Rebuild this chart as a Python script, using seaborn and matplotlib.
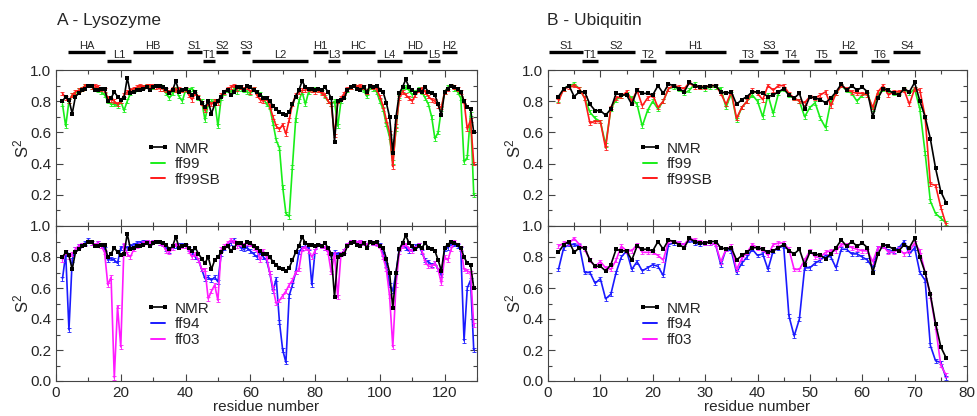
import matplotlib
matplotlib.use("Agg")
import matplotlib.pyplot as plt
import numpy as np
import pandas as pd
import seaborn as sns
from matplotlib.ticker import MultipleLocator
from matplotlib.lines import Line2D

# ---------------- data ----------------
lyso_res = list(range(2, 130))
lyso_nmr = [0.80, 0.83, 0.81, 0.72, 0.83, 0.85, 0.87, 0.88, 0.90, 0.90, 0.87, 0.87, 0.88, 0.88,
            0.80, 0.82, 0.86, 0.83, 0.81, 0.82, 0.95, 0.85, 0.86, 0.87, 0.87, 0.88, 0.89, 0.87,
            0.89, 0.90, 0.90, 0.89, 0.88, 0.85, 0.87, 0.93, 0.86, 0.87, 0.88, 0.86, 0.84, 0.86,
            0.82, 0.79, 0.76, 0.80, 0.72, 0.78, 0.80, 0.83, 0.86, 0.87, 0.84, 0.86, 0.89, 0.89,
            0.87, 0.90, 0.89, 0.87, 0.86, 0.84, 0.82, 0.82, 0.80, 0.77, 0.75, 0.73, 0.72, 0.71,
            0.73, 0.78, 0.83, 0.87, 0.93, 0.89, 0.88, 0.88, 0.87, 0.88, 0.87, 0.89, 0.86, 0.82,
            0.54, 0.80, 0.81, 0.82, 0.87, 0.89, 0.90, 0.88, 0.87, 0.89, 0.86, 0.90, 0.89, 0.90,
            0.87, 0.86, 0.79, 0.70, 0.47, 0.70, 0.85, 0.89, 0.94, 0.89, 0.87, 0.85, 0.87, 0.86,
            0.89, 0.86, 0.85, 0.84, 0.78, 0.71, 0.86, 0.88, 0.90, 0.89, 0.88, 0.86, 0.80, 0.76,
            0.75, 0.60]
lyso_ff99 = [0.78, 0.64, 0.80, 0.84, 0.85, 0.87, 0.88, 0.90, 0.90, 0.89, 0.88, 0.87, 0.86, 0.84,
             0.80, 0.78, 0.78, 0.77, 0.80, 0.74, 0.80, 0.85, 0.87, 0.88, 0.89, 0.89, 0.90, 0.89,
             0.89, 0.90, 0.90, 0.88, 0.85, 0.82, 0.85, 0.88, 0.83, 0.80, 0.87, 0.87, 0.88, 0.86,
             0.82, 0.80, 0.68, 0.78, 0.80, 0.80, 0.64, 0.82, 0.85, 0.87, 0.86, 0.88, 0.86, 0.88,
             0.87, 0.86, 0.85, 0.88, 0.86, 0.85, 0.82, 0.78, 0.76, 0.66, 0.55, 0.50, 0.25, 0.08,
             0.06, 0.38, 0.68, 0.80, 0.86, 0.78, 0.86, 0.87, 0.88, 0.87, 0.86, 0.83, 0.80, 0.78,
             0.80, 0.64, 0.80, 0.83, 0.87, 0.89, 0.90, 0.89, 0.88, 0.87, 0.83, 0.89, 0.88, 0.86,
             0.80, 0.75, 0.65, 0.57, 0.41, 0.62, 0.83, 0.87, 0.89, 0.87, 0.84, 0.86, 0.88, 0.86,
             0.82, 0.78, 0.70, 0.56, 0.60, 0.75, 0.86, 0.89, 0.90, 0.88, 0.86, 0.82, 0.41, 0.44,
             0.72, 0.20]
lyso_ff99sb = [0.85, 0.82, 0.80, 0.84, 0.86, 0.87, 0.88, 0.90, 0.90, 0.89, 0.90, 0.89, 0.88, 0.87,
               0.82, 0.81, 0.80, 0.78, 0.80, 0.84, 0.86, 0.87, 0.88, 0.89, 0.90, 0.89, 0.90, 0.90,
               0.90, 0.89, 0.88, 0.88, 0.87, 0.86, 0.88, 0.87, 0.88, 0.87, 0.88, 0.84, 0.81, 0.85,
               0.83, 0.79, 0.74, 0.79, 0.78, 0.80, 0.79, 0.84, 0.86, 0.88, 0.89, 0.90, 0.88, 0.89,
               0.88, 0.89, 0.86, 0.88, 0.84, 0.81, 0.80, 0.82, 0.77, 0.70, 0.64, 0.62, 0.65, 0.59,
               0.68, 0.78, 0.84, 0.86, 0.87, 0.87, 0.88, 0.87, 0.86, 0.87, 0.85, 0.84, 0.80, 0.78,
               0.58, 0.80, 0.82, 0.85, 0.88, 0.89, 0.90, 0.89, 0.90, 0.89, 0.86, 0.90, 0.89, 0.88,
               0.83, 0.77, 0.68, 0.60, 0.38, 0.64, 0.82, 0.86, 0.84, 0.82, 0.80, 0.84, 0.87, 0.88,
               0.86, 0.83, 0.81, 0.80, 0.77, 0.76, 0.86, 0.88, 0.90, 0.89, 0.88, 0.86, 0.80, 0.62,
               0.68, 0.40]
lyso_ff94 = [0.66, 0.82, 0.33, 0.78, 0.85, 0.87, 0.88, 0.89, 0.91, 0.89, 0.88, 0.89, 0.88, 0.85,
             0.78, 0.79, 0.78, 0.76, 0.86, 0.87, 0.86, 0.87, 0.88, 0.89, 0.89, 0.90, 0.90, 0.89,
             0.90, 0.90, 0.89, 0.88, 0.85, 0.84, 0.87, 0.87, 0.88, 0.88, 0.87, 0.85, 0.83, 0.80,
             0.78, 0.72, 0.66, 0.67, 0.65, 0.67, 0.64, 0.82, 0.86, 0.88, 0.89, 0.91, 0.89, 0.86,
             0.85, 0.86, 0.84, 0.82, 0.80, 0.83, 0.80, 0.78, 0.70, 0.58, 0.66, 0.38, 0.20, 0.12,
             0.55, 0.62, 0.70, 0.83, 0.86, 0.87, 0.86, 0.62, 0.84, 0.88, 0.87, 0.86, 0.85, 0.80,
             0.83, 0.82, 0.82, 0.84, 0.88, 0.90, 0.90, 0.89, 0.90, 0.89, 0.88, 0.90, 0.89, 0.89,
             0.88, 0.82, 0.75, 0.62, 0.58, 0.70, 0.85, 0.88, 0.86, 0.84, 0.85, 0.87, 0.88, 0.83,
             0.78, 0.77, 0.75, 0.76, 0.72, 0.68, 0.85, 0.86, 0.89, 0.88, 0.87, 0.85, 0.26, 0.60,
             0.65, 0.20]
lyso_ff03 = [0.78, 0.83, 0.80, 0.82, 0.85, 0.87, 0.88, 0.88, 0.90, 0.89, 0.88, 0.89, 0.87, 0.83,
             0.62, 0.67, 0.02, 0.48, 0.22, 0.88, 0.82, 0.80, 0.85, 0.87, 0.88, 0.89, 0.90, 0.89,
             0.90, 0.90, 0.89, 0.88, 0.84, 0.83, 0.86, 0.88, 0.87, 0.87, 0.87, 0.84, 0.80, 0.82,
             0.78, 0.72, 0.72, 0.53, 0.58, 0.62, 0.52, 0.85, 0.87, 0.89, 0.91, 0.90, 0.87, 0.88,
             0.88, 0.89, 0.88, 0.86, 0.85, 0.78, 0.84, 0.80, 0.70, 0.60, 0.50, 0.52, 0.55, 0.58,
             0.62, 0.65, 0.70, 0.72, 0.85, 0.86, 0.84, 0.80, 0.84, 0.88, 0.87, 0.86, 0.83, 0.70,
             0.82, 0.54, 0.82, 0.84, 0.88, 0.90, 0.90, 0.89, 0.90, 0.89, 0.88, 0.90, 0.89, 0.88,
             0.87, 0.80, 0.72, 0.55, 0.22, 0.62, 0.83, 0.87, 0.88, 0.85, 0.84, 0.86, 0.88, 0.84,
             0.77, 0.74, 0.74, 0.76, 0.72, 0.63, 0.80, 0.78, 0.85, 0.90, 0.88, 0.86, 0.72, 0.71,
             0.70, 0.36]

ubq_res = list(range(2, 77))
ubq_nmr = [0.83, 0.88, 0.90, 0.83, 0.86, 0.86, 0.78, 0.74, 0.74, 0.71, 0.75, 0.85, 0.84, 0.84,
           0.78, 0.87, 0.85, 0.85, 0.84, 0.90, 0.85, 0.91, 0.90, 0.88, 0.86, 0.92, 0.90, 0.89,
           0.89, 0.90, 0.90, 0.86, 0.85, 0.86, 0.78, 0.81, 0.83, 0.86, 0.86, 0.85, 0.83, 0.84,
           0.86, 0.88, 0.84, 0.82, 0.85, 0.75, 0.83, 0.82, 0.81, 0.79, 0.82, 0.86, 0.91, 0.87,
           0.90, 0.87, 0.89, 0.86, 0.70, 0.82, 0.88, 0.87, 0.85, 0.84, 0.88, 0.86, 0.92, 0.80,
           0.70, 0.56, 0.37, 0.22, 0.15]
ubq_ff99 = [0.81, 0.88, 0.90, 0.91, 0.88, 0.82, 0.73, 0.69, 0.67, 0.52, 0.75, 0.81, 0.83, 0.85,
            0.82, 0.78, 0.64, 0.74, 0.80, 0.75, 0.80, 0.88, 0.89, 0.88, 0.85, 0.87, 0.91, 0.89,
            0.88, 0.89, 0.89, 0.88, 0.76, 0.85, 0.68, 0.76, 0.80, 0.84, 0.80, 0.70, 0.84, 0.72,
            0.85, 0.88, 0.84, 0.82, 0.80, 0.70, 0.76, 0.79, 0.69, 0.63, 0.80, 0.85, 0.90, 0.87,
            0.85, 0.80, 0.84, 0.85, 0.75, 0.84, 0.88, 0.87, 0.85, 0.85, 0.88, 0.85, 0.88, 0.75,
            0.47, 0.16, 0.08, 0.05, 0.02]
ubq_ff99sb = [0.80, 0.88, 0.89, 0.90, 0.88, 0.82, 0.66, 0.67, 0.67, 0.50, 0.76, 0.82, 0.83, 0.86,
              0.80, 0.87, 0.77, 0.82, 0.84, 0.76, 0.80, 0.88, 0.90, 0.89, 0.88, 0.92, 0.89, 0.89,
              0.89, 0.90, 0.90, 0.85, 0.78, 0.86, 0.69, 0.76, 0.80, 0.87, 0.85, 0.81, 0.90, 0.87,
              0.90, 0.90, 0.85, 0.82, 0.80, 0.79, 0.83, 0.82, 0.84, 0.86, 0.77, 0.85, 0.90, 0.88,
              0.86, 0.85, 0.85, 0.84, 0.76, 0.86, 0.90, 0.84, 0.86, 0.86, 0.87, 0.78, 0.88, 0.87,
              0.70, 0.27, 0.26, 0.12, 0.01]
ubq_ff94 = [0.72, 0.86, 0.88, 0.88, 0.87, 0.70, 0.70, 0.63, 0.66, 0.53, 0.56, 0.70, 0.80, 0.84,
            0.72, 0.77, 0.71, 0.73, 0.75, 0.74, 0.68, 0.88, 0.89, 0.89, 0.88, 0.91, 0.89, 0.88,
            0.89, 0.89, 0.88, 0.75, 0.85, 0.84, 0.70, 0.76, 0.80, 0.85, 0.81, 0.82, 0.72, 0.84,
            0.86, 0.87, 0.42, 0.29, 0.40, 0.73, 0.73, 0.76, 0.78, 0.81, 0.80, 0.73, 0.85, 0.85,
            0.82, 0.82, 0.80, 0.78, 0.73, 0.86, 0.87, 0.84, 0.84, 0.86, 0.90, 0.82, 0.86, 0.70,
            0.65, 0.23, 0.13, 0.12, 0.02]
ubq_ff03 = [0.87, 0.89, 0.89, 0.92, 0.88, 0.85, 0.78, 0.74, 0.77, 0.73, 0.72, 0.78, 0.87, 0.84,
            0.84, 0.88, 0.83, 0.83, 0.83, 0.81, 0.78, 0.90, 0.90, 0.89, 0.88, 0.92, 0.91, 0.90,
            0.89, 0.89, 0.88, 0.77, 0.85, 0.87, 0.72, 0.79, 0.83, 0.88, 0.86, 0.85, 0.81, 0.88,
            0.89, 0.89, 0.85, 0.72, 0.72, 0.78, 0.84, 0.80, 0.80, 0.83, 0.84, 0.84, 0.88, 0.88,
            0.86, 0.85, 0.84, 0.84, 0.77, 0.86, 0.87, 0.83, 0.83, 0.85, 0.82, 0.84, 0.89, 0.84,
            0.70, 0.55, 0.35, 0.10, 0.04]

# secondary structure annotations (label, start, end, row: 1 = upper, 0 = lower)
lyso_ss_labels = ["HA", "L1", "HB", "S1", "T1", "S2", "S3", "L2", "H1", "L3", "HC", "L4", "HD", "L5", "H2"]
lyso_ss_start = [3.7, 15.7, 23.8, 40.4, 45.4, 49.4, 57.4, 60.5, 79.3, 84.0, 88.3, 99.0, 107.1, 114.8, 119.1]
lyso_ss_end = [15.1, 23.1, 36.1, 45.1, 49.1, 53.1, 59.9, 77.8, 84.0, 87.7, 98.5, 106.8, 114.5, 118.5, 123.8]
lyso_ss_row = [1, 0, 1, 1, 0, 1, 1, 0, 1, 0, 1, 0, 1, 0, 1]

ubq_ss_labels = ["S1", "T1", "S2", "T2", "H1", "T3", "S3", "T4", "T5", "H2", "T6", "S4"]
ubq_ss_start = [0.2, 6.4, 9.4, 17.5, 22.4, 36.4, 40.5, 44.7, 50.8, 55.6, 61.7, 65.9]
ubq_ss_end = [6.6, 9.6, 16.7, 20.7, 33.9, 40.0, 43.9, 48.0, 54.0, 59.0, 65.1, 71.1]
ubq_ss_row = [1, 0, 1, 0, 1, 0, 1, 0, 0, 1, 0, 1]

ERR = 0.012  # typical size of the simulation error bars

COLORS = {"NMR": "black", "ff99": "#19ee19", "ff99SB": "#ff1a1a", "ff94": "#1a1aff", "ff03": "#ff1aff"}

# ---------------- style ----------------
sns.set_theme(style="ticks")
plt.rcParams["font.family"] = ["Liberation Sans", "DejaVu Sans"]
plt.rcParams["mathtext.fontset"] = "custom"
plt.rcParams["mathtext.rm"] = "Liberation Sans"
plt.rcParams["mathtext.default"] = "regular"

W, H = 977, 416
fig = plt.figure(figsize=(W / 100, H / 100), dpi=100)


def add_ax(x0, x1, y0, y1):
    return fig.add_axes([x0 / W, 1 - y1 / H, (x1 - x0) / W, (y1 - y0) / H])


def draw_panel(ax, res, series, names, xmax, xmajor, xminor, show_x, leg_y):
    df = pd.DataFrame({"residue": res})
    handles = []
    for name in names:
        df[name] = series[name]
        col = COLORS[name]
        if name == "NMR":
            sns.lineplot(data=df, x="residue", y=name, ax=ax, color=col, lw=1.2,
                         marker="s", markersize=2.2, markeredgewidth=0, zorder=3)
            handles.append(Line2D([], [], color=col, lw=1.2, marker="s", markersize=2.6,
                                  markeredgewidth=0, label=name))
        else:
            sns.lineplot(data=df, x="residue", y=name, ax=ax, color=col, lw=1.2, zorder=2)
            ax.errorbar(df["residue"], df[name], yerr=ERR, fmt="none", ecolor=col,
                        elinewidth=0.6, capsize=1.2, capthick=0.6, zorder=2)
            handles.append(Line2D([], [], color=col, lw=1.4, label=name))
    ax.set_xlim(0, xmax)
    ax.set_ylim(0, 1)
    ax.xaxis.set_major_locator(MultipleLocator(xmajor))
    ax.xaxis.set_minor_locator(MultipleLocator(xminor))
    ax.yaxis.set_major_locator(MultipleLocator(0.2))
    ax.yaxis.set_minor_locator(MultipleLocator(0.1))
    ax.yaxis.set_major_formatter(matplotlib.ticker.FormatStrFormatter("%.1f"))
    ax.tick_params(which="both", direction="in", top=True, right=True, labelsize=11, width=0.8,
                   color="#444444")
    ax.tick_params(which="major", length=5)
    ax.tick_params(which="minor", length=3)
    for sp in ax.spines.values():
        sp.set_linewidth(0.8)
        sp.set_color("#444444")
    ax.set_ylabel(r"S$^2$", fontsize=12, labelpad=-1)
    if show_x:
        ax.set_xlabel("residue number", fontsize=11, labelpad=0)
    else:
        ax.set_xlabel("")
        ax.tick_params(labelbottom=False)
        ax.set_yticks([0.2, 0.4, 0.6, 0.8, 1.0])
    ax.legend(handles=handles, loc="upper left", bbox_to_anchor=(0.19, leg_y), frameon=False,
              fontsize=11, handlelength=1.5, handletextpad=0.35, labelspacing=0.1, numpoints=2,
              borderpad=0.2)


def draw_ss(ax, labels, starts, ends, rows):
    tr = ax.get_xaxis_transform()
    for lab, s, e, r in zip(labels, starts, ends, rows):
        y = 1.115 if r == 1 else 1.058
        ax.plot([s, e], [y, y], transform=tr, color="black", lw=2.4, clip_on=False,
                solid_capstyle="butt")
        ax.text((s + e) / 2, y + 0.008, lab, transform=tr, ha="center", va="bottom", fontsize=8)


lyso_series = {"NMR": lyso_nmr, "ff99": lyso_ff99, "ff99SB": lyso_ff99sb, "ff94": lyso_ff94, "ff03": lyso_ff03}
ubq_series = {"NMR": ubq_nmr, "ff99": ubq_ff99, "ff99SB": ubq_ff99sb, "ff94": ubq_ff94, "ff03": ubq_ff03}

axA1 = add_ax(56, 477, 70, 226)
axA2 = add_ax(56, 477, 226, 381)
axB1 = add_ax(548, 967, 70, 226)
axB2 = add_ax(548, 967, 226, 381)

draw_panel(axA1, lyso_res, lyso_series, ["NMR", "ff99", "ff99SB"], 130, 20, 10, False, 0.61)
draw_panel(axA2, lyso_res, lyso_series, ["NMR", "ff94", "ff03"], 130, 20, 10, True, 0.58)
draw_panel(axB1, ubq_res, ubq_series, ["NMR", "ff99", "ff99SB"], 80, 10, 5, False, 0.61)
draw_panel(axB2, ubq_res, ubq_series, ["NMR", "ff94", "ff03"], 80, 10, 5, True, 0.58)

draw_ss(axA1, lyso_ss_labels, lyso_ss_start, lyso_ss_end, lyso_ss_row)
draw_ss(axB1, ubq_ss_labels, ubq_ss_start, ubq_ss_end, ubq_ss_row)

fig.text(57 / W, 1 - 20 / H, "A - Lysozyme", fontsize=12.5, ha="left", va="center")
fig.text(547 / W, 1 - 20 / H, "B - Ubiquitin", fontsize=12.5, ha="left", va="center")

fig.savefig("out.png", dpi=100)
